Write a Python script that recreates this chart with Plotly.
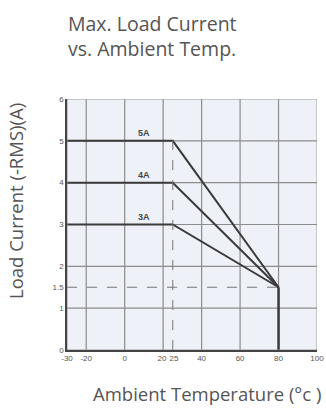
import plotly.graph_objects as go

# Data
temps_knee = [-30, 25, 80]          # flat until 25 °C, derate to 80 °C
currents = {"5A": 5, "4A": 4, "3A": 3}
end_current = 1.5
cutoff_temp = 80
x_ticks = [-30, -20, 0, 20, 25, 40, 60, 80, 100]
x_ticktext = ["-30", "-20", "0", "20\u00a0", "\u00a025", "40", "60", "80", "100"]
y_ticks = [0, 1, 1.5, 2, 3, 4, 5, 6]
x_grid = [-20, 0, 20, 40, 60, 80]
y_grid = [1, 2, 3, 4, 5]
label_x = 10

fig = go.Figure()

line_col = "#3a3a3a"
for name, cur in currents.items():
    fig.add_trace(go.Scatter(x=temps_knee, y=[cur, cur, end_current], mode="lines",
                             line=dict(color=line_col, width=2), showlegend=False, hoverinfo="skip"))
    fig.add_annotation(x=label_x, y=cur, text=f"<b>{name}</b>", showarrow=False, yshift=8,
                       font=dict(family="Liberation Sans, Arial", size=9, color="#444"))

# vertical drop at cutoff
fig.add_trace(go.Scatter(x=[cutoff_temp, cutoff_temp], y=[end_current, 0], mode="lines",
                         line=dict(color=line_col, width=2.5), showlegend=False, hoverinfo="skip"))
# dashed reference lines
fig.add_trace(go.Scatter(x=[-30, cutoff_temp], y=[end_current, end_current], mode="lines",
                         line=dict(color="#777", width=1, dash="10px,10px"), showlegend=False, hoverinfo="skip"))
fig.add_trace(go.Scatter(x=[25, 25], y=[0, 5], mode="lines",
                         line=dict(color="#777", width=1, dash="10px,10px"), showlegend=False, hoverinfo="skip"))

shapes = []
for gx in x_grid:
    shapes.append(dict(type="line", xref="x", yref="y", x0=gx, x1=gx, y0=0, y1=6,
                       line=dict(color="#8c8c8c", width=1.2), layer="below"))
for gy in y_grid:
    shapes.append(dict(type="line", xref="x", yref="y", x0=-30, x1=100, y0=gy, y1=gy,
                       line=dict(color="#8c8c8c", width=1.2), layer="below"))
shapes.append(dict(type="rect", xref="x", yref="y", x0=-30, x1=100, y0=0, y1=6,
                   line=dict(color="#9a9a9a", width=1)))

tick_font = dict(family="Liberation Sans, Arial", size=8, color="#555")
fig.update_layout(
    width=326, height=412,
    margin=dict(l=67, r=9, t=99, b=62),
    plot_bgcolor="#eef1f8", paper_bgcolor="white",
    shapes=shapes,
    xaxis=dict(range=[-30, 100], tickvals=x_ticks, ticktext=x_ticktext,
               tickangle=0, showgrid=False, zeroline=False, showline=True, linecolor="#444",
               linewidth=1.5, ticks="", tickfont=tick_font, automargin=False),
    yaxis=dict(range=[0, 6], tickvals=y_ticks, ticktext=[str(v) for v in y_ticks],
               showgrid=False, zeroline=False, showline=True, linecolor="#444", linewidth=1.5,
               ticks="", tickfont=tick_font, automargin=False),
)

PW, PH = 250, 251
fig.add_annotation(xref="paper", yref="paper", x=(152 - 67) / PW, y=1 + (99 - 36) / PH,
                   xanchor="center", yanchor="middle",
                   text="Max. Load Current<br>vs. Ambient Temp.", showarrow=False,
                   align="left", font=dict(family="Open Sans", size=19.5, color="#555"))
fig.add_annotation(xref="paper", yref="paper", x=(207 - 67) / PW, y=-(393 - 350) / PH,
                   xanchor="center", yanchor="middle",
                   text="Ambient Temperature (°c )", showarrow=False,
                   font=dict(family="Open Sans", size=18.5, color="#555"))
fig.add_annotation(xref="paper", yref="paper", x=-(67 - 15) / PW, y=(350 - 201) / PH,
                   xanchor="center", yanchor="middle",
                   text="Load Current (-RMS)(A)", showarrow=False, textangle=-90,
                   font=dict(family="Open Sans", size=18.5, color="#555"))

fig.write_html("out.html", config={"displayModeBar": False},
               post_script="document.body.style.margin='0';")
